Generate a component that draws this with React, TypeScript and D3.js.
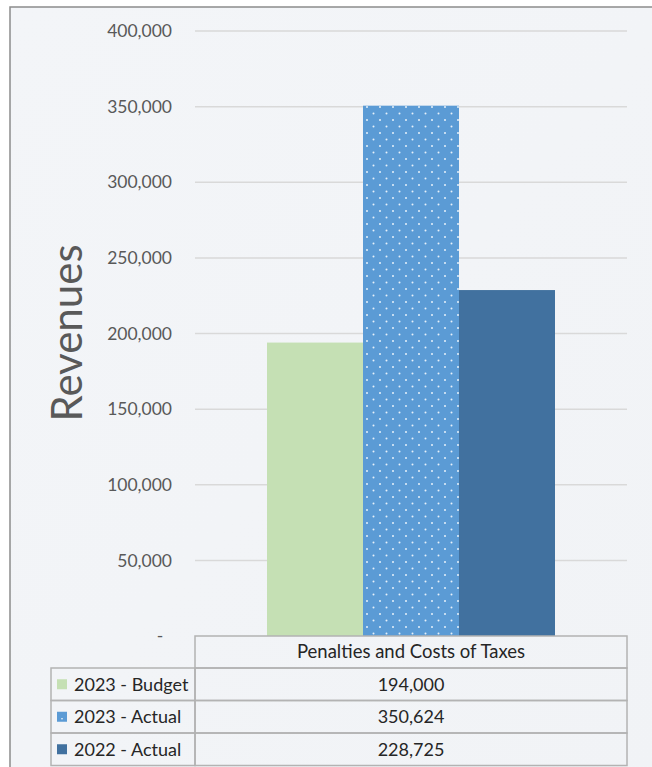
import React from "react";
import * as d3 from "d3";

const categories = ["Penalties and Costs of Taxes"];
const seriesNames = ["2023 - Budget", "2023 - Actual", "2022 - Actual"];
const seriesValues = [194000, 350624, 228725];
const seriesLabels = ["194,000", "350,624", "228,725"];
const yTicks = [0, 50000, 100000, 150000, 200000, 250000, 300000, 350000, 400000];
const colors = ["#c5e0b4", "#5b9bd5", "#41719f"];

const W = 652;
const H = 767;
const FONT = "Lato, 'Open Sans', sans-serif";

export default function App() {
  const plotLeft = 195;
  const plotRight = 627;
  const y = d3.scaleLinear().domain([0, 400000]).range([636, 31]);
  const xCat = d3.scaleBand().domain(categories).range([plotLeft, plotRight]).padding(0);
  const xSer = d3
    .scaleBand()
    .domain(seriesNames)
    .range([0, xCat.bandwidth()])
    .paddingInner(0)
    .paddingOuter(0.75);
  const fmt = d3.format(",");

  const tableTop = 636;
  const headerH = 32;
  const rowH = 32.5;
  const legendLeft = 51;

  return (
    <svg
      width={W}
      height={H}
      style={{ position: "absolute", left: 0, top: 0, display: "block" }}
      fontFamily={FONT}
    >
      <defs>
        <pattern id="dots" width={13} height={13} patternUnits="userSpaceOnUse">
          <rect width={13} height={13} fill={colors[1]} />
          <circle cx={3} cy={3} r={1} fill="#ffffff" opacity={0.85} />
          <circle cx={9.5} cy={9.5} r={1} fill="#ffffff" opacity={0.85} />
        </pattern>
        <linearGradient id="bg" x1="0" y1="0" x2="1" y2="1">
          <stop offset="0" stopColor="#f3f5f8" />
          <stop offset="1" stopColor="#f1f3f6" />
        </linearGradient>
      </defs>
      <rect x={0} y={0} width={W} height={H} fill="#ffffff" />
      <rect x={10} y={7} width={W + 10} height={H} fill="url(#bg)" stroke="#8c8c8c" strokeWidth={1.5} />

      {/* gridlines */}
      {yTicks.filter((t) => t > 0).map((t) => (
        <line key={t} x1={plotLeft} x2={plotRight} y1={y(t)} y2={y(t)} stroke="#d9d9d9" strokeWidth={1.5} />
      ))}

      {/* tick labels */}
      {yTicks.map((t) => (
        <text
          key={t}
          x={t === 0 ? 160 : 172}
          y={y(t)}
          dy="0.35em"
          textAnchor={t === 0 ? "middle" : "end"}
          fontSize={17.5}
          fill="#595959"
        >
          {t === 0 ? "-" : fmt(t)}
        </text>
      ))}

      {/* y axis title */}
      <text
        transform={`translate(${82},${333}) rotate(-90)`}
        textAnchor="middle"
        fontSize={42}
        fill="#595959"
      >
        Revenues
      </text>

      {/* bars */}
      {categories.map((c) =>
        seriesNames.map((s, i) => (
          <rect
            key={s}
            x={(xCat(c) as number) + (xSer(s) as number)}
            y={y(seriesValues[i])}
            width={xSer.bandwidth()}
            height={y(0) - y(seriesValues[i])}
            fill={i === 1 ? "url(#dots)" : colors[i]}
          />
        ))
      )}

      {/* data table */}
      <g stroke="#b3b3b3" strokeWidth={1.5} fill="none">
        <rect x={plotLeft} y={tableTop} width={plotRight - plotLeft} height={headerH} />
        {seriesNames.map((s, i) => (
          <g key={s}>
            <rect x={legendLeft} y={tableTop + headerH + i * rowH} width={plotLeft - legendLeft} height={rowH} />
            <rect x={plotLeft} y={tableTop + headerH + i * rowH} width={plotRight - plotLeft} height={rowH} />
          </g>
        ))}
      </g>
      <text
        x={(plotLeft + plotRight) / 2}
        y={tableTop + headerH / 2}
        dy="0.35em"
        textAnchor="middle"
        fontSize={18.5}
        fill="#262626"
      >
        {categories[0]}
      </text>
      {seriesNames.map((s, i) => {
        const cy = tableTop + headerH + i * rowH + rowH / 2;
        return (
          <g key={s}>
            <rect x={57} y={cy - 5} width={10} height={10} fill={colors[i]} />
            {i === 1 && <circle cx={62} cy={cy + 2} r={0.8} fill="#fff" />}
            <text x={74} y={cy} dy="0.35em" fontSize={18} fill="#262626">
              {s}
            </text>
            <text x={(plotLeft + plotRight) / 2} y={cy} dy="0.35em" textAnchor="middle" fontSize={18} fill="#262626">
              {seriesLabels[i]}
            </text>
          </g>
        );
      })}
    </svg>
  );
}
